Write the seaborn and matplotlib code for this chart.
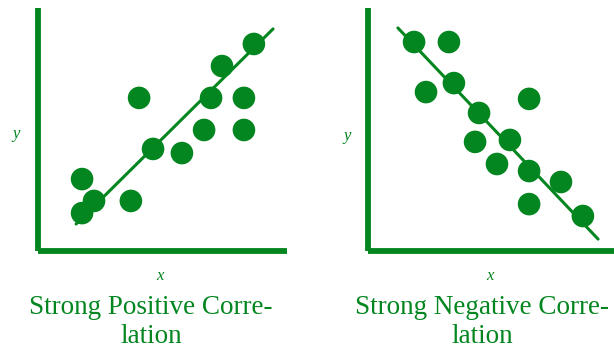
import matplotlib
matplotlib.use("Agg")
import matplotlib.pyplot as plt
import seaborn as sns
import pandas as pd

# positive panel
pos_x = [8.67, 7.39, 6.95, 8.27, 4.06, 6.67, 8.27, 4.62, 5.78, 1.77, 2.25, 3.73, 1.77]
pos_y = [8.52, 7.61, 6.30, 6.30, 6.30, 4.98, 4.98, 4.20, 4.03, 2.96, 2.06, 2.06, 1.56]
pos_line_x = [1.53, 9.44]
pos_line_y = [1.11, 9.14]

# negative panel
neg_x = [1.85, 3.25, 2.33, 3.45, 6.47, 4.46, 4.30, 5.70, 5.18, 6.47, 7.75, 6.47, 8.63]
neg_y = [8.60, 8.60, 6.54, 6.91, 6.26, 5.68, 4.49, 4.57, 3.58, 3.29, 2.84, 1.93, 1.44]
neg_line_x = [1.20, 9.24]
neg_line_y = [9.18, 0.49]

titles = ["Strong Positive Corre-\nlation", "Strong Negative Corre-\nlation"]

green = "#03861f"
sns.set_style("white")
plt.rcParams['font.family'] = ['Liberation Serif', 'DejaVu Serif']

W, H = 614, 352
fig = plt.figure(figsize=(W / 100, H / 100), dpi=100)

panels = [
    (38, pos_x, pos_y, pos_line_x, pos_line_y),
    (368, neg_x, neg_y, neg_line_x, neg_line_y),
]

for i, (left, xs, ys, lx, ly) in enumerate(panels):
    ax = fig.add_axes([left / W, (H - 251) / H, 249 / W, 243 / H])
    df = pd.DataFrame({"x": xs, "y": ys})
    sns.lineplot(x=lx, y=ly, ax=ax, color=green, linewidth=2.2)
    sns.scatterplot(data=df, x="x", y="y", ax=ax, color=green, s=265,
                    edgecolor="none", zorder=3)
    ax.set_xlim(0, 10)
    ax.set_ylim(0, 10)
    ax.set_xticks([])
    ax.set_yticks([])
    ax.set_xlabel("")
    ax.set_ylabel("")
    for s in ["top", "right"]:
        ax.spines[s].set_visible(False)
    for s in ["left", "bottom"]:
        ax.spines[s].set_color(green)
        ax.spines[s].set_linewidth(4.2)
        ax.spines[s].set_capstyle("butt")

# axis letters and titles
fig.text(160 / W, 1 - 276 / H, "x", color=green, fontsize=12, style="italic",
         ha="center", va="center")
fig.text(490 / W, 1 - 276 / H, "x", color=green, fontsize=12, style="italic",
         ha="center", va="center")
fig.text(16 / W, 1 - 134 / H, "y", color=green, fontsize=12, style="italic",
         ha="center", va="center")
fig.text(347 / W, 1 - 136 / H, "y", color=green, fontsize=12, style="italic",
         ha="center", va="center")

fig.text(151 / W, 1 - 322 / H, titles[0], color=green, fontsize=19.5,
         ha="center", va="center", linespacing=1.2)
fig.text(482 / W, 1 - 322 / H, titles[1], color=green, fontsize=19.5,
         ha="center", va="center", linespacing=1.2)

fig.savefig("out.png", dpi=100)
